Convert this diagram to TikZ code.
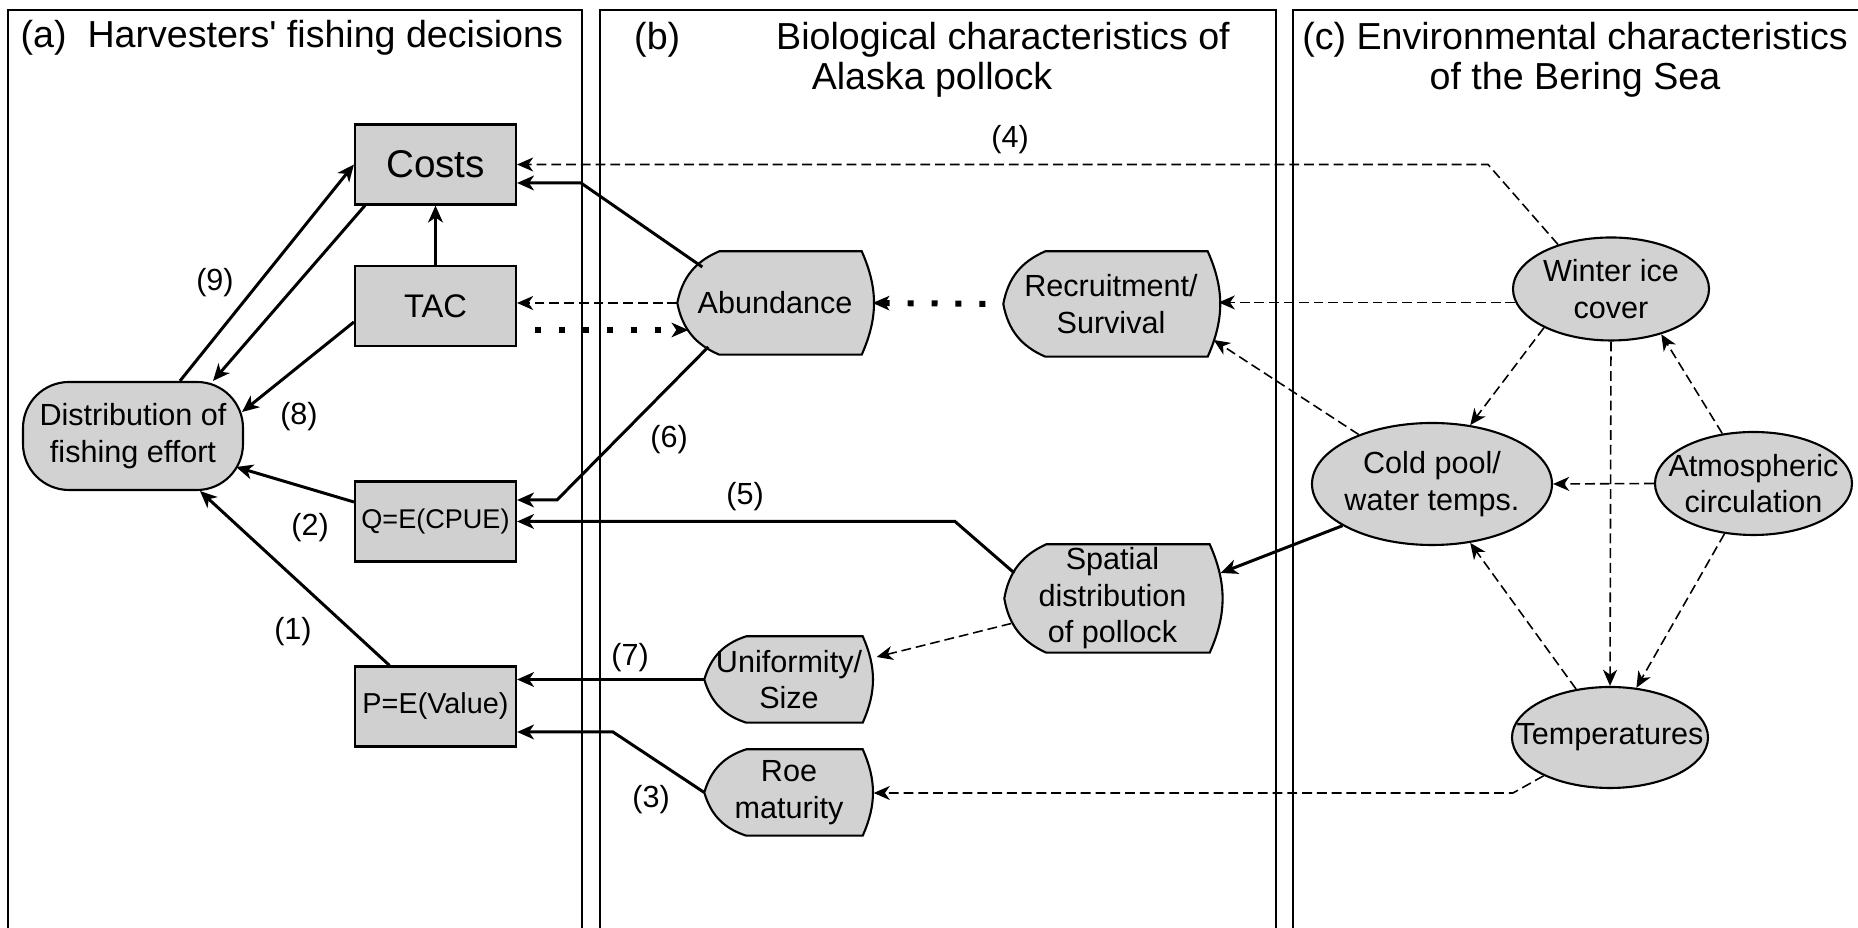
\documentclass[tikz,border=0pt]{standalone}
\usepackage{fontspec}
\setmainfont{Liberation Sans}
\usetikzlibrary{positioning}
\usetikzlibrary{shapes.geometric, arrows.meta, backgrounds}

\begin{document}
\begin{tikzpicture}[y=-1cm]

    \tikzset{
        panel/.style={draw, line width=0.6pt},
        ptitle/.style={font=\fontsize{10.7}{11.4}\selectfont, inner sep=0pt, align=center},
        txt/.style={font=\fontsize{8.7}{10.4}\selectfont, align=center},
        box/.style={
            draw,
            line width=0.6pt,
            fill=gray!37,
            minimum width=1.61cm,
            minimum height=0.8cm,
            inner sep=0pt,
            font=\fontsize{9.3}{11}\selectfont
        },
        oval/.style={draw, ellipse, line width=0.6pt, fill=gray!35, inner sep=0pt},
        fish/.style={minimum height=1.02cm, inner sep=0pt, txt},
        fishline/.style={draw, line width=0.6pt, fill=gray!35},
        solidarr/.style={-{Stealth[length=4.8pt,width=4.2pt,inset=1.4pt]}, line width=0.85pt},
        dasharr/.style={-{Stealth[length=4.6pt,width=4pt,inset=1.4pt]}, line width=0.45pt, dash pattern=on 2.8pt off 1.4pt},
        dotarr/.style={-{Stealth[length=4.8pt,width=4.2pt,inset=1.4pt,line width=0.4pt]}, line width=1.7pt, dash pattern=on 1.7pt off 5.1pt, shorten <=0.18cm}
    }

    \clip (0,0) rectangle (18.58,9.28);

    % panels
    \draw[panel] (0.08,0.10) rectangle (5.82,9.60);
    \draw[panel] (6.00,0.10) rectangle (12.76,9.60);
    \draw[panel] (12.93,0.10) rectangle (18.80,9.60);

    \node[ptitle, anchor=west] (ta) at (0.20,0.38) {(a)~ Harvesters\textquotesingle{} fishing decisions};
    \node[ptitle] (tb) at (9.32,0.60) {(b)\hspace{0.96cm}Biological characteristics of\\Alaska pollock};
    \node[ptitle] (tc) at (15.75,0.60) {(c) Environmental characteristics\\of the Bering Sea};

    % harvesters
    \node[box, font=\fontsize{11}{13}\selectfont] (costs) at (4.355,1.645) {Costs};
    \node[box] (tac) at (4.355,3.06) {TAC};
    \node[box, font=\fontsize{7.7}{9}\selectfont] (cpue) at (4.355,5.215) {Q=E(CPUE)};
    \node[box, font=\fontsize{8.2}{9}\selectfont] (value) at (4.355,7.065) {P=E(Value)};
    \node[draw, rectangle, rounded corners=4.6mm, line width=0.6pt, fill=gray!35,
        minimum width=2.2cm, minimum height=1.08cm, inner sep=0pt, txt] (effort) at (1.33,4.36) {Distribution of\\fishing effort};

    % pollock
    \node[fish, minimum width=1.94cm] (abund) at (7.75,3.03) {Abundance};
    \node[fish, minimum width=2.14cm, minimum height=1.04cm] (recruit) at (11.11,3.04) {Recruitment/\\Survival};
    \node[fish, minimum width=2.15cm, minimum height=1.07cm] (spatial) at (11.125,5.985) {Spatial\\distribution\\of pollock};
    \node[fish, minimum width=1.68cm, minimum height=0.85cm] (unif) at (7.89,6.795) {Uniformity/\\Size};
    \node[fish, minimum width=1.68cm, minimum height=0.85cm] (roe) at (7.89,7.925) {Roe\\maturity};

    \begin{scope}[on background layer]
        \foreach \n in {abund, recruit, spatial, unif, roe}
            \draw[fishline] ([xshift=4.2mm]\n.north west) -- ([xshift=-1.1mm]\n.north east)
                to[bend left=24] ([xshift=-1.1mm]\n.south east) -- ([xshift=4.2mm]\n.south west)
                to[bend left=28] (\n.west) to[bend left=28] ([xshift=4.2mm]\n.north west) -- cycle;
    \end{scope}

    % bering sea
    \node[oval, minimum width=1.96cm, minimum height=1.03cm, label={[txt]center:Winter ice\\cover}] (winter) at (16.11,2.89) {};
    \node[oval, minimum width=2.40cm, minimum height=1.22cm, label={[txt]center:Cold pool/\\water temps.}] (cold) at (14.32,4.84) {};
    \node[oval, minimum width=1.97cm, minimum height=1.03cm, label={[txt]center:Atmospheric\\circulation}] (atmos) at (17.535,4.835) {};
    \node[oval, minimum width=1.96cm, minimum height=1.01cm, label={[txt]center:Temperatures}] (temps) at (16.10,7.375) {};

    % link numbers
    \node[txt] (l9) at (2.15,2.83) {(9)};
    \node[txt] (l8) at (2.99,4.17) {(8)};
    \node[txt] (l2) at (3.10,5.28) {(2)};
    \node[txt] (l1) at (2.93,6.32) {(1)};
    \node[txt] (l6) at (6.69,4.40) {(6)};
    \node[txt] (l4) at (10.10,1.40) {(4)};
    \node[txt] (l5) at (7.45,4.97) {(5)};
    \node[txt] (l7) at (6.30,6.58) {(7)};
    \node[txt] (l3) at (6.51,8.00) {(3)};

    \coordinate (bAbund) at (5.81,1.83);
    \coordinate (bCpue) at (5.57,5.00);
    \coordinate (bSpat) at (9.55,5.215);
    \coordinate (bWint) at (14.88,1.645);
    \coordinate (bTemp) at (15.13,7.93);
    \coordinate (bRoe) at (6.13,7.32);

    \draw[solidarr] (tac) -- (costs);
    \draw[solidarr] ([xshift=0.47cm]effort.north) -- (costs.west);
    \draw[solidarr] ([xshift=0.11cm]costs.south west) -- ([xshift=0.8cm]effort.north);
    \draw[solidarr] ([yshift=-0.16cm]tac.west) -- ([shift={(-0.02,-0.24)}]effort.east);
    \draw[solidarr] ([yshift=0.195cm]cpue.west) -- ([shift={(-0.08,0.31)}]effort.east);
    \draw[solidarr] ([xshift=-0.46cm]value.north) -- ([xshift=0.67cm]effort.south);

    \draw[solidarr] ([shift={(0.25,-0.36)}]abund.west) -- (bAbund) -- (bAbund -| costs.east);
    \draw[dasharr] (abund.west) -- (abund.west -| tac.east);
    \draw[dotarr] ([yshift=-0.24cm]tac.east) -- ([shift={(0.11,0.27)}]abund.west);
    \draw[solidarr] ([shift={(0.31,0.44)}]abund.west) -- (bCpue) -- (bCpue -| cpue.east);
    \draw[solidarr] ([shift={(0.10,-0.255)}]spatial.west) -- (bSpat) -- (bSpat -| cpue.east);
    \draw[dotarr] (recruit.west) -- (abund.east);
    \draw[dasharr] ([shift={(0.07,0.25)}]spatial.west) -- ([shift={(0.03,-0.225)}]unif.east);
    \draw[solidarr] (unif.west) -- (unif.west -| value.east);
    \draw[solidarr] (roe.west) -- (bRoe) -- (bRoe -| value.east);

    \draw[dasharr] (winter.140) -- (bWint) -- (bWint -| costs.east);
    \draw[dasharr] (winter.188) -- (winter.188 -| recruit.east);
    \draw[dasharr] (winter.210) -- (cold.57);
    \draw[dasharr] (winter.south) -- (temps.north);
    \draw[dasharr] (atmos.122) -- (winter.318);
    \draw[dasharr] (atmos.west) -- (cold.east);
    \draw[dasharr] (atmos.240) -- (temps.62);
    \draw[dasharr] (temps.125) -- (cold.303);
    \draw[dasharr] (cold.146) -- ([shift={(-0.05,0.36)}]recruit.east);
    \draw[solidarr] (cold.205) -- ([yshift=0.255cm]spatial.east);
    \draw[dasharr] (temps.210) -- (bTemp) -- (bTemp -| roe.east);

\end{tikzpicture}
\end{document}
